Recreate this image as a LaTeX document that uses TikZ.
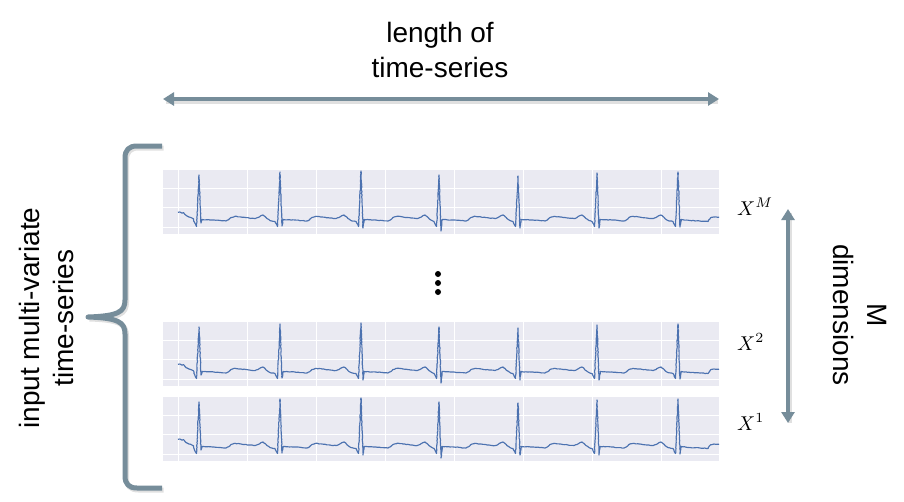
\documentclass[tikz,border=0pt]{standalone}
\usepackage{fontspec}
\setmainfont{Liberation Sans}
\usetikzlibrary{arrows.meta,decorations.pathmorphing}
\definecolor{slate}{RGB}{118,141,154}
\definecolor{ecgbg}{HTML}{EAEAF2}
\definecolor{ecgline}{HTML}{4C72B0}
\tikzset{
  panel/.style={fill=ecgbg, draw=none, inner sep=0pt, outer sep=0pt,
    minimum width=556pt, minimum height=64pt, anchor=north west},
  gridline/.style={draw=white, line width=0.9pt},
  ecg/.style={draw=ecgline, line width=1.15pt, line join=round,
    decorate, decoration={random steps, segment length=1.6pt, amplitude=0.3pt}},
  slatearrow/.style={draw=slate, line width=4pt,
    {Triangle[width=13pt,length=11pt]}-{Triangle[width=13pt,length=11pt]}},
  softshadow/.style={draw=black, opacity=0.12, line width=4.5pt},
  bracestyle/.style={draw=slate, line width=5pt, line join=round},
  lbl/.style={inner sep=0pt, font=\fontsize{28}{34}\selectfont, align=center},
  xlbl/.style={inner sep=0pt, anchor=base west},
}
\newcommand{\ecgpanel}[2]{%
  \node[panel] (#1) at (163,#2) {};
  \begin{scope}[shift={(0,#2)}]
    \foreach \k in {0,...,7} \draw[gridline] (178+69.1*\k,0) -- (178+69.1*\k,64);
    \foreach \k in {0,1,2} \draw[gridline] (163,18.5+19.3*\k) -- (719,18.5+19.3*\k);
    \draw[ecg] (178,42.3) -- (180,42) -- (182,43.2) -- (183.5,42.6) -- (185,44.5)
      -- (187,46) -- (189,47) -- (191.5,47.8) -- (193.5,48.8)
      \foreach \r/\h/\s in {199/5/53, 280/2/56, 361/1/58, 439/5/61, 518/6/58, 597/3/58} {
        -- (\r-5,51.5) -- (\r-2.5,56.5) -- (\r,\h) -- (\r+2,\s) -- (\r+3.2,49.5)
        -- (\r+8,49.8) -- (\r+15,50) -- (\r+22,50.6) -- (\r+27,51) -- (\r+29.5,49.8)
        -- (\r+32,47.5) -- (\r+36,46.3) -- (\r+42,47) -- (\r+50,48) -- (\r+56,48.6)
        -- (\r+59,47.5) -- (\r+62,45.6) -- (\r+64,45) -- (\r+66,46.5) -- (\r+68,48.6)
        -- (\r+71,50.6) }
      -- (673,51.5) -- (675.5,56.5) -- (678,2) -- (680,57) -- (681.2,49.5)
      -- (690,50.5) -- (700,51) -- (708,51.5) -- (710.5,47.8) -- (714,47) -- (719,47.2);
  \end{scope}}
\begin{document}
\begin{tikzpicture}[x=1pt,y=-1pt]
  \useasboundingbox (0,0) rectangle (904,501);
  \fill[white] (0,0) rectangle (904,501);

  % panels
  \ecgpanel{pM}{170}
  \ecgpanel{ptwo}{322}
  \ecgpanel{pone}{397}

  % vertical dots
  \foreach \yy in {274,283,292} \fill[black] (438,\yy) circle (3pt);

  % title and horizontal arrow
  \node[lbl, font=\fontsize{28}{35}\selectfont] (title) at (440,49.5) {length of\\time-series};
  \coordinate (hl) at (163,99);
  \coordinate (hr) at (719,99);
  \draw[softshadow, shift={(1,2.5)}] (165,99) -- (717,99);
  \draw[slatearrow] (hl) -- (hr);

  % labels X
  \node[xlbl] (xM) at (737,215) {\scalebox{2}{$X^M$}};
  \node[xlbl] (xtwo) at (737,350) {\scalebox{2}{$X^2$}};
  \node[xlbl] (xone) at (737,430) {\scalebox{2}{$X^1$}};

  % vertical arrow
  \coordinate (vt) at (788,209);
  \coordinate (vb) at (788,423);
  \draw[softshadow, shift={(2,1.5)}] (788,211) -- (788,421);
  \draw[slatearrow] (vt) -- (vb);
  \node[lbl, rotate=-90] (mdim) at (860,315) {M\\dimensions};

  % brace
  \draw[softshadow, line width=5pt, shift={(1.5,2)}] (162,146) -- (137,146)
    .. controls (129,146) and (125,150) .. (125,158) -- (125,300)
    .. controls (125,312) and (118,316) .. (88,317)
    .. controls (118,318) and (125,322) .. (125,334) -- (125,476)
    .. controls (125,484) and (129,488) .. (137,488) -- (162,488);
  \draw[bracestyle] (162,146) -- (137,146)
    .. controls (129,146) and (125,150) .. (125,158) -- (125,300)
    .. controls (125,312) and (118,316) .. (88,317)
    .. controls (118,318) and (125,322) .. (125,334) -- (125,476)
    .. controls (125,484) and (129,488) .. (137,488) -- (162,488);
  \node[lbl, rotate=90] (inp) at (46,318) {input multi-variate\\time-series};
\end{tikzpicture}
\end{document}
